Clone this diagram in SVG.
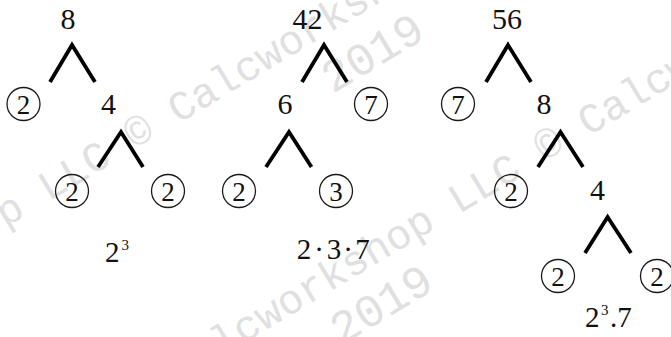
<svg xmlns="http://www.w3.org/2000/svg" width="671" height="337" viewBox="0 0 671 337">
<style>
.wm{font-size:42px;fill:#e0e0e0}
.wy{font-size:46px;fill:#e0e0e0;text-anchor:middle}
.num{font-size:30px;fill:#111;text-anchor:middle}
.cd{font-size:27px;fill:#111;text-anchor:middle}
.res{font-size:29px;fill:#111}
.mid{text-anchor:middle}
.sup{font-size:15px}
.ring{fill:none;stroke:#1a1a1a;stroke-width:1.3}
.br{fill:none;stroke:#000;stroke-width:3.8;stroke-linejoin:miter;stroke-linecap:butt}
</style>
<g id="watermark" font-family="Liberation Mono, Courier New, monospace">
<text class="wm" transform="rotate(-31)" x="-390" y="198">Calcworkshop LLC © Calcworkshop LLC ©</text>
<text class="wy" transform="rotate(-31)" x="292" y="252">2019</text>
<text class="wm" transform="rotate(-31)" x="-45" y="420">Calcworkshop LLC © Calcworkshop</text>
<text class="wy" transform="rotate(-31)" x="170" y="472">2019</text>
</g>
<g id="connectors">
<polyline class="br" points="50,82 72,45 95,82"/>
<polyline class="br" points="98,167 121,132 143,167"/>
<polyline class="br" points="302,82 324,45 347,82"/>
<polyline class="br" points="266,167 289,132 311.5,167"/>
<polyline class="br" points="486,82 508,45 531,82"/>
<polyline class="br" points="538,167 560.5,132 583,167"/>
<polyline class="br" points="585,253 607.6,217 631,253"/>
</g>
<g font-family="Liberation Serif, Times New Roman, serif">
<g id="t1-root"><text class="num" x="68" y="29">8</text></g>
<g id="t1-p2"><circle class="ring" cx="23.5" cy="104" r="16.5"/><text class="cd" x="23.5" y="113.5">2</text></g>
<g id="t1-n4"><text class="num" x="108.5" y="114">4</text></g>
<g id="t1-p2a"><circle class="ring" cx="72" cy="191" r="16.5"/><text class="cd" x="72" y="200.5">2</text></g>
<g id="t1-p2b"><circle class="ring" cx="168" cy="191" r="16.5"/><text class="cd" x="168" y="200.5">2</text></g>
<g id="t1-result"><text class="res" x="105" y="262">2<tspan class="sup" x="121.5" y="250">3</tspan></text></g>
<g id="t2-root"><text class="num" x="307.5" y="29">42</text></g>
<g id="t2-n6"><text class="num" x="285" y="114">6</text></g>
<g id="t2-p7"><circle class="ring" cx="371" cy="104" r="16.5"/><text class="cd" x="371" y="113.5">7</text></g>
<g id="t2-p2"><circle class="ring" cx="239" cy="191" r="16.5"/><text class="cd" x="239" y="200.5">2</text></g>
<g id="t2-p3"><circle class="ring" cx="336" cy="191" r="16.5"/><text class="cd" x="336" y="200.5">3</text></g>
<g id="t2-result"><text class="res mid" x="304 319 334 348 362.5" y="259">2·3·7</text></g>
<g id="t3-root"><text class="num" x="507" y="29">56</text></g>
<g id="t3-p7"><circle class="ring" cx="458" cy="104" r="16.5"/><text class="cd" x="458" y="113.5">7</text></g>
<g id="t3-n8"><text class="num" x="544" y="114">8</text></g>
<g id="t3-p2"><circle class="ring" cx="511" cy="191" r="16.5"/><text class="cd" x="511" y="200.5">2</text></g>
<g id="t3-n4"><text class="num" x="597.5" y="200">4</text></g>
<g id="t3-p2a"><circle class="ring" cx="558" cy="276" r="16.5"/><text class="cd" x="558" y="285.5">2</text></g>
<g id="t3-p2b"><circle class="ring" cx="657" cy="276" r="16.5"/><text class="cd" x="657" y="285.5">2</text></g>
<g id="t3-result"><text class="res" x="585" y="327">2<tspan class="sup" x="601" y="315">3</tspan><tspan x="610" y="327">.7</tspan></text></g>
</g>
</svg>
